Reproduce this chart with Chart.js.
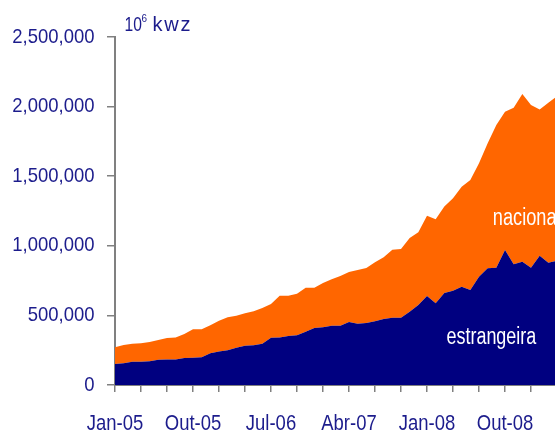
<!DOCTYPE html>
<html>
<head>
<meta charset="utf-8">
<script src="https://cdn.jsdelivr.net/npm/chart.js@4.4.1/dist/chart.umd.min.js"></script>
<style>
  html, body { margin: 0; padding: 0; background: #ffffff; overflow: hidden; width: 555px; height: 430px; }
  #wrap { position: relative; width: 560px; height: 430px; }
</style>
</head>
<body>
<div id="wrap">
  <canvas id="c" width="560" height="430"></canvas>
</div>
<script>
const months = [
  "Jan-05","Fev-05","Mar-05","Abr-05","Mai-05","Jun-05","Jul-05","Ago-05","Set-05","Out-05","Nov-05","Dez-05",
  "Jan-06","Fev-06","Mar-06","Abr-06","Mai-06","Jun-06","Jul-06","Ago-06","Set-06","Out-06","Nov-06","Dez-06",
  "Jan-07","Fev-07","Mar-07","Abr-07","Mai-07","Jun-07","Jul-07","Ago-07","Set-07","Out-07","Nov-07","Dez-07",
  "Jan-08","Fev-08","Mar-08","Abr-08","Mai-08","Jun-08","Jul-08","Ago-08","Set-08","Out-08","Nov-08","Dez-08",
  "Jan-09","Fev-09","Mar-09","Abr-09"
];
const shownLabels = ["Jan-05","Out-05","Jul-06","Abr-07","Jan-08","Out-08"];
const estrangeira = [
  151000,156000,167000,167000,170000,182000,184000,184000,194000,196000,199000,228000,
  241000,250000,268000,282000,285000,297000,340000,342000,352000,357000,383000,410000,
  414000,426000,426000,453000,440000,445000,458000,474000,483000,483000,527000,575000,
  639000,587000,661000,677000,706000,682000,778000,838000,843000,970000,867000,886000,
  843000,929000,879000,893000
];
const nacional = [
  120000,131000,130000,133000,139000,141000,154000,158000,172000,204000,201000,201000,
  221000,236000,230000,233000,244000,256000,242000,300000,290000,299000,316000,289000,
  319000,334000,357000,359000,386000,395000,423000,443000,489000,494000,529000,522000,
  577000,603000,621000,664000,719000,791000,815000,898000,1025000,993000,1125000,1204000,
  1168000,1051000,1149000,1182000
];
const yTicks = [0, 500000, 1000000, 1500000, 2000000, 2500000];
const unitLabel = { base: "10", exp: "6", unit: "kwz" };

const NAVY = '#000080', ORANGE = '#FF6600', AXIS = '#808080', TEXT = '#1c1c8c';
const FONT = '"Liberation Sans", Arial, sans-serif';

function drawText(ctx, text, x, y, size, sx, align, color, spacing) {
  ctx.save();
  ctx.translate(x, y);
  ctx.scale(sx, 1);
  ctx.font = size + 'px ' + FONT;
  ctx.fillStyle = color;
  ctx.textAlign = align;
  ctx.textBaseline = 'alphabetic';
  if (spacing) ctx.letterSpacing = spacing + 'px';
  ctx.fillText(text, 0, 0);
  ctx.restore();
}

const textLayer = {
  id: 'textLayer',
  afterDraw(chart) {
    const { ctx, scales: { x, y } } = chart;
    // y tick labels
    yTicks.forEach(v => {
      drawText(ctx, v.toLocaleString('en-US'), 94.5, y.getPixelForValue(v) + 5.5, 21, 0.88, 'right', TEXT);
    });
    // x tick labels
    months.forEach((m, i) => {
      if (shownLabels.includes(m)) {
        drawText(ctx, m, x.getPixelForValue(i), 430, 22, 0.84, 'center', TEXT);
      }
    });
    // unit title
    drawText(ctx, unitLabel.base, 124.5, 31, 20, 0.78, 'left', TEXT);
    drawText(ctx, unitLabel.exp, 141.5, 21.5, 11, 0.9, 'left', TEXT);
    drawText(ctx, unitLabel.unit, 152.5, 31, 20, 1.0, 'left', TEXT, 1.8);
    // series labels
    drawText(ctx, 'nacional', x.getPixelForValue(43.6), y.getPixelForValue(1148000), 23, 0.79, 'left', '#ffffff');
    drawText(ctx, 'estrangeira', x.getPixelForValue(38.25), y.getPixelForValue(295000), 23, 0.78, 'left', '#ffffff');
  }
};

new Chart(document.getElementById('c'), {
  type: 'line',
  data: {
    labels: months,
    datasets: [
      { label: 'estrangeira', data: estrangeira, backgroundColor: NAVY, borderWidth: 0, pointRadius: 0, fill: 'origin', tension: 0 },
      { label: 'nacional', data: nacional, backgroundColor: ORANGE, borderWidth: 0, pointRadius: 0, fill: '-1', tension: 0 }
    ]
  },
  options: {
    responsive: false,
    animation: false,
    events: [],
    layout: { padding: { top: 37, right: 3, left: 0, bottom: 0 } },
    plugins: { legend: { display: false }, tooltip: { enabled: false }, title: { display: false } },
    scales: {
      x: {
        type: 'category',
        offset: false,
        border: { display: true, color: AXIS, width: 2 },
        grid: {
          drawOnChartArea: false, drawTicks: true, tickLength: 7, lineWidth: 1.5,
          color: (c) => (c.index % 3 === 0 ? AXIS : 'rgba(0,0,0,0)')
        },
        ticks: { display: false, autoSkip: false, maxRotation: 0, minRotation: 0, callback: () => '' },
        afterFit: (s) => { s.height = 45; }
      },
      y: {
        stacked: true,
        min: 0, max: 2500000,
        border: { display: true, color: AXIS, width: 2 },
        grid: { drawOnChartArea: false, drawTicks: true, tickLength: 8, lineWidth: 1.5, color: AXIS },
        afterBuildTicks: (s) => { s.ticks = yTicks.map(v => ({ value: v })); },
        ticks: { display: false },
        afterFit: (s) => { s.width = 115; }
      }
    }
  },
  plugins: [textLayer]
});
</script>
</body>
</html>
